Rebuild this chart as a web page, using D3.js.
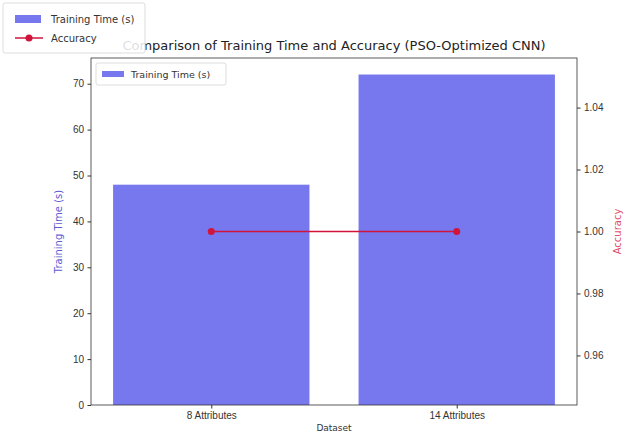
<!DOCTYPE html>
<html>
<head>
<meta charset="utf-8">
<script src="https://cdn.jsdelivr.net/npm/d3@7"></script>
<style>
  body { margin: 0; background: #fff; }
  svg { font-family: "DejaVu Sans", sans-serif; }
</style>
</head>
<body>
<script>
var categories = ["8 Attributes", "14 Attributes"];
var trainingTime = [48, 72];
var accuracy = [1.0, 1.0];
var leftTicks = [0, 10, 20, 30, 40, 50, 60, 70];
var rightTicks = [0.96, 0.98, 1.00, 1.02, 1.04];

var W = 632, H = 432;
var m = { left: 91, right: 577, top: 58, bottom: 405 };
var barColor = "#7777ee", lineColor = "#d0143c";

var svg = d3.select("body").append("svg")
    .attr("width", W)
    .attr("height", H);

var x = d3.scaleLinear().domain([-0.49, 1.49]).range([m.left, m.right]);
var yL = d3.scaleLinear().domain([0, 75.6]).range([m.bottom, m.top]);
var yR = d3.scaleLinear().domain([0.944, 1.056]).range([m.bottom, m.top]);

// bars
svg.selectAll("rect.bar").data(trainingTime).enter().append("rect")
    .attr("class", "bar")
    .attr("x", function (d, i) { return x(i - 0.4); })
    .attr("width", x(0.4) - x(-0.4))
    .attr("y", function (d) { return yL(d); })
    .attr("height", function (d) { return yL(0) - yL(d); })
    .attr("fill", barColor);

// accuracy line
var line = d3.line()
    .x(function (d, i) { return x(i); })
    .y(function (d) { return yR(d); });
svg.append("path")
    .datum(accuracy)
    .attr("d", line)
    .attr("fill", "none")
    .attr("stroke", lineColor)
    .attr("stroke-width", 1.5);
svg.selectAll("circle.pt").data(accuracy).enter().append("circle")
    .attr("class", "pt")
    .attr("cx", function (d, i) { return x(i); })
    .attr("cy", function (d) { return yR(d); })
    .attr("r", 3.5)
    .attr("fill", lineColor);

// frame
svg.append("rect")
    .attr("x", m.left).attr("y", m.top)
    .attr("width", m.right - m.left).attr("height", m.bottom - m.top)
    .attr("fill", "none").attr("stroke", "#333").attr("stroke-width", 0.8);

// axes
function styleAxis(g) {
    g.select(".domain").remove();
    g.selectAll(".tick line").attr("stroke", "#333");
    g.selectAll(".tick text").attr("fill", "#333").style("font-size", "10px");
}
svg.append("g")
    .attr("transform", "translate(" + m.left + ",0)")
    .call(d3.axisLeft(yL).tickValues(leftTicks).tickSize(3.5).tickPadding(3.5))
    .call(styleAxis);
svg.append("g")
    .attr("transform", "translate(" + m.right + ",0)")
    .call(d3.axisRight(yR).tickValues(rightTicks).tickFormat(d3.format(".2f")).tickSize(3.5).tickPadding(3.5))
    .call(styleAxis);
svg.append("g")
    .attr("transform", "translate(0," + m.bottom + ")")
    .call(d3.axisBottom(x).tickValues([0, 1]).tickFormat(function (d) { return categories[d]; }).tickSize(3.5).tickPadding(3.5))
    .call(styleAxis);

// labels
svg.append("text")
    .attr("transform", "translate(62," + (m.top + m.bottom) / 2 + ") rotate(-90)")
    .attr("text-anchor", "middle")
    .attr("fill", "#5a5ad2")
    .style("font-size", "10px")
    .text("Training Time (s)");
svg.append("text")
    .attr("transform", "translate(621," + (m.top + m.bottom) / 2 + ") rotate(-90)")
    .attr("text-anchor", "middle")
    .attr("fill", "#e0506a")
    .style("font-size", "10px")
    .text("Accuracy");
svg.append("text")
    .attr("x", (m.left + m.right) / 2).attr("y", 431)
    .attr("text-anchor", "middle")
    .attr("fill", "#333")
    .style("font-size", "9px")
    .text("Dataset");
svg.append("text")
    .attr("x", (m.left + m.right) / 2).attr("y", 50)
    .attr("text-anchor", "middle")
    .attr("fill", "#222")
    .style("font-size", "13px")
    .text("Comparison of Training Time and Accuracy (PSO-Optimized CNN)");

// inner legend
var lg = svg.append("g").attr("transform", "translate(" + (m.left + 5) + "," + (m.top + 5) + ")");
lg.append("rect").attr("width", 130).attr("height", 22).attr("rx", 2)
    .attr("fill", "#fff").attr("stroke", "#ddd");
lg.append("rect").attr("x", 6).attr("y", 8).attr("width", 22).attr("height", 6).attr("fill", barColor);
lg.append("text").attr("x", 35).attr("y", 14.5).style("font-size", "9.5px").attr("fill", "#333").text("Training Time (s)");

// figure legend, drawn over the title start as in the original
var fg = svg.append("g").attr("transform", "translate(3,3)");
fg.append("rect").attr("width", 142).attr("height", 50).attr("rx", 2)
    .attr("fill", "#fff").attr("fill-opacity", 0.85).attr("stroke", "#ddd");
fg.append("rect").attr("x", 12).attr("y", 12).attr("width", 26).attr("height", 8).attr("fill", barColor);
fg.append("text").attr("x", 48).attr("y", 20).style("font-size", "10px").attr("fill", "#333").text("Training Time (s)");
fg.append("line").attr("x1", 12).attr("x2", 40).attr("y1", 35).attr("y2", 35)
    .attr("stroke", lineColor).attr("stroke-width", 1.5);
fg.append("circle").attr("cx", 26).attr("cy", 35).attr("r", 3.5).attr("fill", lineColor);
fg.append("text").attr("x", 48).attr("y", 39).style("font-size", "10px").attr("fill", "#333").text("Accuracy");
</script>
</body>
</html>
